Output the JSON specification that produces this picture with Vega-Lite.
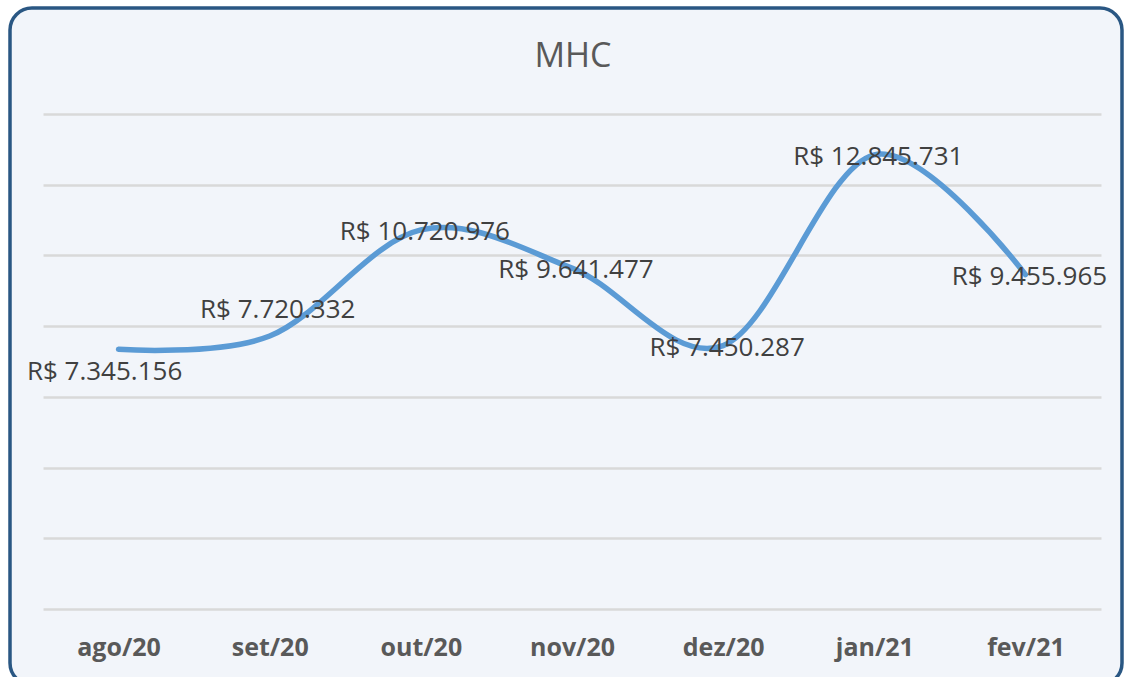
{
  "$schema": "https://vega.github.io/schema/vega-lite/v6.json",
  "width": 1112,
  "height": 677,
  "autosize": "none",
  "padding": {"left": 10, "top": 8, "right": 3, "bottom": 0},
  "background": "#ffffff",
  "config": {
    "view": {"fill": "#F2F5FA", "stroke": "#2A5783", "strokeWidth": 3.5, "cornerRadius": 22}
  },
  "title": {
    "text": "MHC",
    "offset": 0,
    "dx": 7,
    "dy": 93,
    "baseline": "alphabetic",
    "anchor": "middle",
    "font": "Open Sans",
    "fontSize": 34,
    "fontWeight": "normal",
    "color": "#595959"
  },
  "data": {
    "values": [
      {"mes": "ago/20", "valor": 7345156, "label": "R$ 7.345.156"},
      {"mes": "set/20", "valor": 7720332, "label": "R$ 7.720.332"},
      {"mes": "out/20", "valor": 10720976, "label": "R$ 10.720.976"},
      {"mes": "nov/20", "valor": 9641477, "label": "R$ 9.641.477"},
      {"mes": "dez/20", "valor": 7450287, "label": "R$ 7.450.287"},
      {"mes": "jan/21", "valor": 12845731, "label": "R$ 12.845.731"},
      {"mes": "fev/21", "valor": 9455965, "label": "R$ 9.455.965"}
    ]
  },
  "encoding": {
    "x": {
      "field": "mes",
      "type": "ordinal",
      "sort": null,
      "scale": {"type": "point", "range": [33, 1091], "padding": 0.5},
      "axis": {
        "title": null,
        "offset": -76,
        "labelPadding": 46,
        "labelBaseline": "alphabetic",
        "ticks": false,
        "domain": false,
        "grid": false,
        "labelAngle": 0,
        "labelFont": "Open Sans",
        "labelFontSize": 25,
        "labelFontWeight": "bold",
        "labelColor": "#595959"
      }
    },
    "y": {
      "field": "valor",
      "type": "quantitative",
      "scale": {"domain": [0, 14000000], "range": [601, 106], "nice": false},
      "axis": {
        "title": null,
        "labels": false,
        "ticks": false,
        "domain": false,
        "grid": true,
        "gridColor": "#D9D9D9",
        "gridWidth": 2.5,
        "values": [0, 2000000, 4000000, 6000000, 8000000, 10000000, 12000000, 14000000]
      }
    }
  },
  "layer": [
    {
      "mark": {"type": "line", "interpolate": "cardinal", "color": "#5B9BD5", "strokeWidth": 5.5, "strokeCap": "round"}
    },
    {
      "transform": [{"filter": {"field": "mes", "oneOf": ["out/20", "nov/20", "dez/20", "jan/21", "fev/21"]}}],
      "mark": {"type": "text", "font": "Open Sans", "fontSize": 26, "color": "#404040", "dx": 4, "dy": 2, "baseline": "middle", "align": "center"},
      "encoding": {"text": {"field": "label"}}
    },
    {
      "transform": [{"filter": {"field": "mes", "equal": "ago/20"}}],
      "mark": {"type": "text", "font": "Open Sans", "fontSize": 26, "color": "#404040", "dx": -14, "dy": 23, "baseline": "middle", "align": "center"},
      "encoding": {"text": {"field": "label"}}
    },
    {
      "transform": [{"filter": {"field": "mes", "equal": "set/20"}}],
      "mark": {"type": "text", "font": "Open Sans", "fontSize": 26, "color": "#404040", "dx": 8, "dy": -26, "baseline": "middle", "align": "center"},
      "encoding": {"text": {"field": "label"}}
    }
  ]
}
